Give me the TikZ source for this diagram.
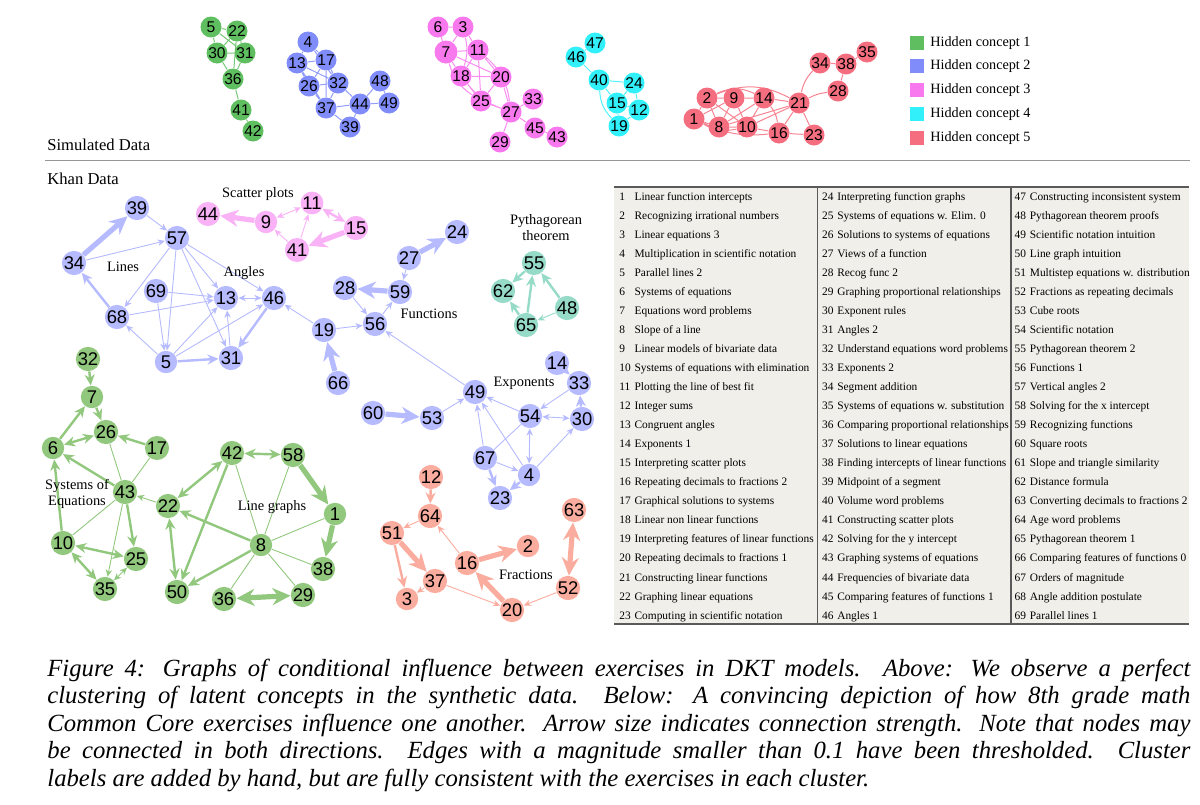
\documentclass[tikz,border=0pt]{standalone}
\usepackage{fontspec}
\setmainfont{Liberation Serif}
\newfontfamily\numberfont{Liberation Sans}
\usetikzlibrary{arrows.meta}

\definecolor{simGreen}{RGB}{95,190,95}
\definecolor{simBlue}{RGB}{128,140,250}
\definecolor{simPink}{RGB}{248,120,238}
\definecolor{simCyan}{RGB}{50,240,250}
\definecolor{simRed}{RGB}{245,110,128}
\definecolor{khanGreen}{RGB}{145,200,125}
\definecolor{khanBlue}{RGB}{182,186,255}
\definecolor{khanPink}{RGB}{248,178,245}
\definecolor{khanTeal}{RGB}{150,218,200}
\definecolor{khanSalmon}{RGB}{250,172,158}
\definecolor{tableBg}{RGB}{241,239,234}
\definecolor{ruleGray}{RGB}{150,150,150}
\definecolor{tableLine}{RGB}{90,90,90}

\pgfdeclarelayer{edges}
\pgfsetlayers{edges,main}

\begin{document}
\begin{tikzpicture}[x=0.5pt,y=-0.5pt]
    \tikzstyle{simNode} = [circle, inner sep=0pt, minimum size=10.5pt, font=\numberfont\fontsize{7.8}{8}\selectfont]
    \tikzstyle{khanNode} = [circle, inner sep=0pt, minimum size=11.2pt, font=\numberfont\fontsize{9.2}{9}\selectfont]
    \tikzstyle{simEdge} = [line width=0.5pt]
    \tikzstyle{weakLink} = [line width=0.45pt, >={Stealth[length=3.6pt,width=3.2pt]}]
    \tikzstyle{mediumLink} = [line width=1.2pt, >={Stealth[length=5.5pt,width=5pt]}]
    \tikzstyle{strongLink} = [line width=2.6pt, >={Stealth[length=9pt,width=8.5pt]}]
    \tikzstyle{clusterLabel} = [font=\fontsize{7.2}{8}\selectfont, align=center, inner sep=0pt]
    \tikzstyle{legendBox} = [rectangle, inner sep=0pt, minimum size=7pt]
    \tikzstyle{legendText} = [anchor=west, inner sep=0pt, font=\fontsize{7.1}{8}\selectfont]
    \tikzstyle{tableCol} = [anchor=north west, inner sep=0pt, font=\fontsize{5.7}{9.525}\selectfont]
    \useasboundingbox (0,0) rectangle (1200,804);

    % place nodes: simulated data
    \node[simNode,fill=simGreen] (sim5) at (211,27) {5};
    \node[simNode,fill=simGreen] (sim22) at (237,31) {22};
    \node[simNode,fill=simGreen] (sim30) at (217,53) {30};
    \node[simNode,fill=simGreen] (sim31) at (245,53) {31};
    \node[simNode,fill=simGreen] (sim36) at (233,79) {36};
    \node[simNode,fill=simGreen] (sim41) at (241,110) {41};
    \node[simNode,fill=simGreen] (sim42) at (253,131) {42};

    \node[simNode,fill=simBlue] (sim4) at (308,42) {4};
    \node[simNode,fill=simBlue] (sim13) at (297,63) {13};
    \node[simNode,fill=simBlue] (sim17) at (326,60) {17};
    \node[simNode,fill=simBlue] (sim26) at (309,86) {26};
    \node[simNode,fill=simBlue] (sim32) at (338,83) {32};
    \node[simNode,fill=simBlue] (sim48) at (380,81) {48};
    \node[simNode,fill=simBlue] (sim37) at (326,108) {37};
    \node[simNode,fill=simBlue] (sim44) at (360,104) {44};
    \node[simNode,fill=simBlue] (sim49) at (389,103) {49};
    \node[simNode,fill=simBlue] (sim39) at (350,127) {39};

    \node[simNode,fill=simPink] (sim6) at (438,27) {6};
    \node[simNode,fill=simPink] (sim3) at (463,27) {3};
    \node[simNode,fill=simPink,minimum size=11.5pt] (sim7) at (446,52) {7};
    \node[simNode,fill=simPink] (sim11) at (478,50) {11};
    \node[simNode,fill=simPink] (sim18) at (461,76) {18};
    \node[simNode,fill=simPink] (sim20) at (501,77) {20};
    \node[simNode,fill=simPink] (sim25) at (481,101) {25};
    \node[simNode,fill=simPink] (sim27) at (511,112) {27};
    \node[simNode,fill=simPink] (sim33) at (533,99) {33};
    \node[simNode,fill=simPink] (sim45) at (535,128) {45};
    \node[simNode,fill=simPink] (sim43) at (557,137) {43};
    \node[simNode,fill=simPink] (sim29) at (500,142) {29};

    \node[simNode,fill=simCyan] (sim47) at (595,43) {47};
    \node[simNode,fill=simCyan] (sim46) at (576,57) {46};
    \node[simNode,fill=simCyan] (sim40) at (599,80) {40};
    \node[simNode,fill=simCyan] (sim24) at (634,83) {24};
    \node[simNode,fill=simCyan] (sim15) at (617,103) {15};
    \node[simNode,fill=simCyan] (sim12) at (639,110) {12};
    \node[simNode,fill=simCyan] (sim19) at (619,126) {19};

    \node[simNode,fill=simRed] (sim2) at (707,98) {2};
    \node[simNode,fill=simRed] (sim9) at (734,98) {9};
    \node[simNode,fill=simRed] (sim14) at (764,98) {14};
    \node[simNode,fill=simRed] (sim21) at (799,103) {21};
    \node[simNode,fill=simRed] (sim1) at (694,119) {1};
    \node[simNode,fill=simRed] (sim8) at (719,127) {8};
    \node[simNode,fill=simRed] (sim10) at (747,127) {10};
    \node[simNode,fill=simRed] (sim16) at (779,133) {16};
    \node[simNode,fill=simRed] (sim23) at (814,135) {23};
    \node[simNode,fill=simRed] (sim34) at (820,63) {34};
    \node[simNode,fill=simRed] (sim38) at (846,64) {38};
    \node[simNode,fill=simRed] (sim35) at (867,52) {35};
    \node[simNode,fill=simRed] (sim28) at (838,91) {28};

    % legend
    \node[legendBox,fill=simGreen] (legendOne) at (917,43) {};
    \node[legendBox,fill=simBlue] (legendTwo) at (917,66) {};
    \node[legendBox,fill=simPink] (legendThree) at (917,90) {};
    \node[legendBox,fill=simCyan] (legendFour) at (917,114) {};
    \node[legendBox,fill=simRed] (legendFive) at (917,138) {};
    \node[legendText] (legendOneText) at (930,43) {Hidden concept 1};
    \node[legendText] (legendTwoText) at (930,66) {Hidden concept 2};
    \node[legendText] (legendThreeText) at (930,90) {Hidden concept 3};
    \node[legendText] (legendFourText) at (930,114) {Hidden concept 4};
    \node[legendText] (legendFiveText) at (930,138) {Hidden concept 5};

    % section titles and rule
    \node[anchor=base west, inner sep=0pt, font=\fontsize{8.3}{9}\selectfont] (simTitle) at (47,150) {Simulated Data};
    \node[anchor=base west, inner sep=0pt, font=\fontsize{8.3}{9}\selectfont] (khanTitle) at (47,184) {Khan Data};
    \coordinate (ruleStart) at (45,160);
    \coordinate (ruleEnd) at (1190,160);
    \draw[ruleGray, line width=0.5pt] (ruleStart) -- (ruleEnd);

    % place nodes: khan data
    \node[khanNode,fill=khanBlue] (khan39) at (137,208) {39};
    \node[khanNode,fill=khanBlue] (khan57) at (177,238) {57};
    \node[khanNode,fill=khanBlue] (khan34) at (74,263) {34};
    \node[khanNode,fill=khanBlue] (khan69) at (156,291) {69};
    \node[khanNode,fill=khanBlue] (khan13) at (226,298) {13};
    \node[khanNode,fill=khanBlue] (khan46) at (274,298) {46};
    \node[khanNode,fill=khanBlue] (khan68) at (117,317) {68};
    \node[khanNode,fill=khanBlue] (khan19) at (324,330) {19};
    \node[khanNode,fill=khanBlue] (khan5) at (166,362) {5};
    \node[khanNode,fill=khanBlue] (khan31) at (231,358) {31};
    \node[khanNode,fill=khanBlue] (khan66) at (338,383) {66};
    \node[khanNode,fill=khanBlue] (khan24) at (457,232) {24};
    \node[khanNode,fill=khanBlue] (khan27) at (409,258) {27};
    \node[khanNode,fill=khanBlue] (khan28) at (345,288) {28};
    \node[khanNode,fill=khanBlue] (khan59) at (400,292) {59};
    \node[khanNode,fill=khanBlue] (khan56) at (375,324) {56};
    \node[khanNode,fill=khanBlue] (khan14) at (557,363) {14};
    \node[khanNode,fill=khanBlue] (khan49) at (475,392) {49};
    \node[khanNode,fill=khanBlue] (khan60) at (373,413) {60};
    \node[khanNode,fill=khanBlue] (khan53) at (432,418) {53};
    \node[khanNode,fill=khanBlue] (khan54) at (530,416) {54};
    \node[khanNode,fill=khanBlue] (khan30) at (582,419) {30};
    \node[khanNode,fill=khanBlue] (khan33) at (579,383) {33};
    \node[khanNode,fill=khanBlue] (khan67) at (485,458) {67};
    \node[khanNode,fill=khanBlue] (khan4) at (529,475) {4};
    \node[khanNode,fill=khanBlue] (khan23) at (500,498) {23};

    \node[khanNode,fill=khanPink] (khan44) at (208,214) {44};
    \node[khanNode,fill=khanPink] (khan9) at (266,222) {9};
    \node[khanNode,fill=khanPink] (khan11) at (312,203) {11};
    \node[khanNode,fill=khanPink] (khan41) at (297,250) {41};
    \node[khanNode,fill=khanPink] (khan15) at (356,228) {15};

    \node[khanNode,fill=khanTeal] (khan55) at (534,263) {55};
    \node[khanNode,fill=khanTeal] (khan62) at (503,291) {62};
    \node[khanNode,fill=khanTeal] (khan48) at (567,308) {48};
    \node[khanNode,fill=khanTeal] (khan65) at (526,325) {65};

    \node[khanNode,fill=khanGreen] (khan32) at (88,359) {32};
    \node[khanNode,fill=khanGreen] (khan7) at (92,397) {7};
    \node[khanNode,fill=khanGreen] (khan26) at (106,432) {26};
    \node[khanNode,fill=khanGreen] (khan6) at (53,448) {6};
    \node[khanNode,fill=khanGreen] (khan17) at (157,448) {17};
    \node[khanNode,fill=khanGreen] (khan43) at (125,492) {43};
    \node[khanNode,fill=khanGreen] (khan22) at (168,506) {22};
    \node[khanNode,fill=khanGreen] (khan10) at (63,543) {10};
    \node[khanNode,fill=khanGreen] (khan25) at (136,559) {25};
    \node[khanNode,fill=khanGreen] (khan35) at (105,589) {35};
    \node[khanNode,fill=khanGreen] (khan42) at (232,453) {42};
    \node[khanNode,fill=khanGreen] (khan58) at (293,455) {58};
    \node[khanNode,fill=khanGreen] (khan1) at (335,514) {1};
    \node[khanNode,fill=khanGreen] (khan8) at (261,545) {8};
    \node[khanNode,fill=khanGreen] (khan38) at (323,569) {38};
    \node[khanNode,fill=khanGreen] (khan50) at (177,592) {50};
    \node[khanNode,fill=khanGreen] (khan36) at (224,599) {36};
    \node[khanNode,fill=khanGreen] (khan29) at (303,595) {29};

    \node[khanNode,fill=khanSalmon] (khan12) at (431,477) {12};
    \node[khanNode,fill=khanSalmon] (khan64) at (430,516) {64};
    \node[khanNode,fill=khanSalmon] (khan51) at (392,533) {51};
    \node[khanNode,fill=khanSalmon] (khan2) at (528,546) {2};
    \node[khanNode,fill=khanSalmon] (khan16) at (467,563) {16};
    \node[khanNode,fill=khanSalmon] (khan37) at (435,581) {37};
    \node[khanNode,fill=khanSalmon] (khan3) at (407,599) {3};
    \node[khanNode,fill=khanSalmon] (khan20) at (512,610) {20};
    \node[khanNode,fill=khanSalmon] (khan52) at (568,588) {52};
    \node[khanNode,fill=khanSalmon] (khan63) at (574,510) {63};

    % cluster labels
    \node[clusterLabel] (linesLabel) at (123,267) {Lines};
    \node[clusterLabel] (anglesLabel) at (244,273) {Angles};
    \node[clusterLabel] (scatterLabel) at (258,194) {Scatter plots};
    \node[clusterLabel] (functionsLabel) at (429,314) {Functions};
    \node[clusterLabel] (pythagorasLabel) at (546,228) {Pythagorean\\theorem};
    \node[clusterLabel] (exponentsLabel) at (524,383) {Exponents};
    \node[clusterLabel] (systemsLabel) at (77,494) {Systems of\\Equations};
    \node[clusterLabel] (lineGraphsLabel) at (272,507) {Line graphs};
    \node[clusterLabel] (fractionsLabel) at (526,575) {Fractions};

    % Connections
    \begin{pgfonlayer}{edges}
    \draw[simEdge,simGreen!85!white] (sim5) -- (sim22) (sim5) -- (sim30) (sim5) -- (sim31) (sim22) -- (sim30)
      (sim22) -- (sim31) (sim30) -- (sim31) (sim30) -- (sim36) (sim31) -- (sim36) (sim22) -- (sim36)
      (sim36) -- (sim41) (sim41) -- (sim42);
    \draw[simEdge,simBlue!85!white] (sim4) -- (sim13) (sim4) -- (sim17) (sim4) -- (sim32) (sim13) -- (sim17)
      (sim13) -- (sim26) (sim13) -- (sim37) (sim13) -- (sim32) (sim17) -- (sim26) (sim17) -- (sim32)
      (sim17) -- (sim37) (sim26) -- (sim32) (sim26) -- (sim37) (sim32) -- (sim37) (sim32) -- (sim44)
      (sim37) -- (sim44) (sim37) -- (sim39) (sim44) -- (sim39) (sim44) -- (sim48) (sim48) -- (sim49)
      (sim44) -- (sim49);
    \draw[simEdge,simPink!85!white] (sim6) -- (sim3) (sim6) -- (sim7) (sim3) -- (sim7) (sim3) -- (sim11)
      (sim7) -- (sim11) (sim7) -- (sim18) (sim7) -- (sim20) (sim7) to[bend right=20] (sim25) (sim11) -- (sim18)
      (sim11) -- (sim20) (sim11) -- (sim25) (sim11) to[bend left=20] (sim27) (sim18) -- (sim20)
      (sim18) -- (sim25) (sim18) to[bend right=15] (sim27) (sim20) -- (sim25) (sim20) -- (sim27)
      (sim25) -- (sim27) (sim27) -- (sim33) (sim27) -- (sim45) (sim27) -- (sim29) (sim45) -- (sim43)
      (sim3) to[bend left=15] (sim18);
    \draw[simEdge,simCyan!85!white] (sim46) -- (sim47) (sim46) -- (sim40) (sim40) -- (sim24) (sim40) -- (sim15)
      (sim40) to[bend right=20] (sim19) (sim24) -- (sim15) (sim24) -- (sim12) (sim15) -- (sim12)
      (sim15) -- (sim19) (sim19) -- (sim12);
    \draw[simEdge,simRed!85!white] (sim2) -- (sim9) (sim2) -- (sim1) (sim2) -- (sim8) (sim2) -- (sim10)
      (sim2) to[bend left=25] (sim14) (sim2) to[bend left=25] (sim21) (sim9) -- (sim14) (sim9) -- (sim1)
      (sim9) -- (sim8) (sim9) -- (sim10) (sim14) -- (sim21) (sim14) -- (sim10) (sim14) to[bend left=15] (sim16)
      (sim14) -- (sim8) (sim1) -- (sim8) (sim1) to[bend right=20] (sim10) (sim1) to[bend right=15] (sim16)
      (sim8) -- (sim21) (sim8) -- (sim10) (sim10) -- (sim21) (sim10) -- (sim16) (sim16) -- (sim21)
      (sim16) -- (sim23) (sim21) -- (sim23) (sim21) to[bend left=15] (sim34) (sim21) to[bend left=10] (sim28)
      (sim34) -- (sim38) (sim38) -- (sim35) (sim38) -- (sim28);

    \begin{scope}[khanBlue]
    \draw[strongLink,->] (khan34) -- (khan39);
    \draw[weakLink,->] (khan39) -- (khan57);
    \draw[weakLink,->] (khan34) -- (khan57);
    \draw[weakLink,->] (khan57) -- (khan68);
    \draw[mediumLink,->] (khan68) -- (khan34);
    \draw[weakLink,->] (khan57) -- (khan5);
    \draw[weakLink,->] (khan69) -- (khan5);
    \draw[weakLink,->] (khan57) -- (khan31);
    \draw[weakLink,->] (khan57) -- (khan13);
    \draw[weakLink,->] (khan57) -- (khan46);
    \draw[weakLink,->] (khan69) -- (khan13);
    \draw[weakLink,->] (khan68) -- (khan13);
    \draw[weakLink,->] (khan5) -- (khan68);
    \draw[weakLink,->] (khan5) -- (khan13);
    \draw[weakLink,->] (khan5) -- (khan46);
    \draw[mediumLink,->] (khan5) -- (khan31);
    \draw[weakLink,->] (khan31) -- (khan13);
    \draw[weakLink,<->] (khan13) -- (khan46);
    \draw[mediumLink,->] (khan46) -- (khan31);
    \draw[weakLink,->] (khan19) -- (khan46);
    \draw[weakLink,->] (khan19) -- (khan56);
    \draw[strongLink,->] (khan66) -- (khan19);
    \draw[weakLink,->] (khan49) -- (khan56);
    \draw[weakLink,->] (khan28) -- (khan56);
    \draw[weakLink,->] (khan56) -- (khan59);
    \draw[strongLink,->] (khan59) -- (khan28);
    \draw[weakLink,->] (khan27) -- (khan59);
    \draw[strongLink,->] (khan27) -- (khan24);
    \draw[strongLink,->] (khan60) -- (khan53);
    \draw[weakLink,->] (khan53) -- (khan49);
    \draw[weakLink,->] (khan54) -- (khan49);
    \draw[weakLink,->] (khan67) -- (khan49);
    \draw[weakLink,->] (khan4) -- (khan49);
    \draw[weakLink] (khan67) -- (khan54);
    \draw[weakLink,<->] (khan54) -- (khan4);
    \draw[weakLink,<->] (khan54) -- (khan30);
    \draw[weakLink,->] (khan33) -- (khan54);
    \draw[weakLink,->] (khan14) -- (khan33);
    \draw[mediumLink,->] (khan30) -- (khan33);
    \draw[weakLink,->] (khan4) -- (khan30);
    \draw[weakLink,->] (khan67) -- (khan4);
    \draw[mediumLink,->] (khan67) -- (khan23);
    \draw[mediumLink,->] (khan4) -- (khan23);
    \end{scope}

    \begin{scope}[khanPink]
    \draw[strongLink,->] (khan9) -- (khan44);
    \draw[weakLink,<->] (khan9) -- (khan11);
    \draw[weakLink,->] (khan41) -- (khan9);
    \draw[weakLink,->] (khan41) -- (khan11);
    \draw[mediumLink,<->] (khan11) -- (khan15);
    \draw[strongLink,->] (khan15) -- (khan41);
    \end{scope}

    \begin{scope}[khanTeal]
    \draw[mediumLink,->] (khan55) -- (khan62);
    \draw[mediumLink,->] (khan65) -- (khan55);
    \draw[mediumLink,->] (khan48) -- (khan55);
    \draw[weakLink,->] (khan48) -- (khan65);
    \draw[mediumLink,->] (khan65) -- (khan62);
    \end{scope}

    \begin{scope}[khanGreen]
    \draw[mediumLink,->] (khan32) -- (khan7);
    \draw[mediumLink,->] (khan6) -- (khan7);
    \draw[mediumLink,->] (khan7) -- (khan26);
    \draw[mediumLink,<->] (khan6) -- (khan26);
    \draw[mediumLink,->] (khan17) -- (khan26);
    \draw[weakLink] (khan26) -- (khan43);
    \draw[mediumLink,->] (khan43) -- (khan6);
    \draw[weakLink] (khan17) -- (khan43);
    \draw[mediumLink,->] (khan10) -- (khan6);
    \draw[weakLink] (khan10) -- (khan43);
    \draw[mediumLink,->] (khan43) -- (khan25);
    \draw[weakLink,->] (khan43) -- (khan35);
    \draw[mediumLink,<->] (khan10) -- (khan25);
    \draw[mediumLink,<->] (khan10) -- (khan35);
    \draw[weakLink,<->] (khan35) -- (khan25);
    \draw[weakLink,->] (khan22) -- (khan43);
    \draw[mediumLink,<->] (khan22) -- (khan42);
    \draw[mediumLink,<->] (khan22) -- (khan50);
    \draw[mediumLink,->] (khan42) -- (khan50);
    \draw[mediumLink,<->] (khan42) -- (khan58);
    \draw[weakLink] (khan42) -- (khan8);
    \draw[weakLink] (khan58) -- (khan8);
    \draw[strongLink,->] (khan58) -- (khan1);
    \draw[strongLink,->] (khan1) -- (khan38);
    \draw[weakLink] (khan1) -- (khan8);
    \draw[mediumLink,->] (khan8) -- (khan22);
    \draw[mediumLink,->] (khan8) -- (khan50);
    \draw[weakLink] (khan8) -- (khan38);
    \draw[weakLink] (khan8) -- (khan29);
    \draw[weakLink] (khan8) -- (khan36);
    \draw[strongLink,<->] (khan36) -- (khan29);
    \end{scope}

    \begin{scope}[khanSalmon]
    \draw[mediumLink,->] (khan12) -- (khan64);
    \draw[weakLink,->] (khan64) -- (khan51);
    \draw[strongLink,->] (khan51) -- (khan37);
    \draw[mediumLink,->] (khan51) -- (khan3);
    \draw[weakLink,->] (khan37) -- (khan3);
    \draw[weakLink,->] (khan37) -- (khan20);
    \draw[weakLink,->] (khan16) -- (khan64);
    \draw[strongLink,->] (khan16) -- (khan2);
    \draw[strongLink,->] (khan20) -- (khan16);
    \draw[weakLink,->] (khan52) -- (khan20);
    \draw[strongLink,<->] (khan52) -- (khan63);
    \end{scope}
    \end{pgfonlayer}

    % exercise table
    \fill[tableBg] (614,186.7) rectangle (1189,624);
    \draw[tableLine, line width=0.8pt] (614,186.7) -- (1189,186.7);
    \draw[tableLine, line width=1.1pt] (614,624) -- (1189,624);
    \draw[tableLine, line width=0.8pt] (817.3,186.7) -- (817.3,624);
    \draw[tableLine, line width=0.8pt] (1010.7,186.7) -- (1010.7,624);
    \node[tableCol] (tableColOne) at (619,186.3) {\begin{tabular}{@{}l@{\hspace{1.9pt}}l@{}}
      1 & Linear function intercepts\\
      2 & Recognizing irrational numbers\\
      3 & Linear equations 3\\
      4 & Multiplication in scientific notation\\
      5 & Parallel lines 2\\
      6 & Systems of equations\\
      7 & Equations word problems\\
      8 & Slope of a line\\
      9 & Linear models of bivariate data\\
      10 & Systems of equations with elimination\\
      11 & Plotting the line of best fit\\
      12 & Integer sums\\
      13 & Congruent angles\\
      14 & Exponents 1\\
      15 & Interpreting scatter plots\\
      16 & Repeating decimals to fractions 2\\
      17 & Graphical solutions to systems\\
      18 & Linear non linear functions\\
      19 & Interpreting features of linear functions\\
      20 & Repeating decimals to fractions 1\\
      21 & Constructing linear functions\\
      22 & Graphing linear equations\\
      23 & Computing in scientific notation
    \end{tabular}};
    \node[tableCol] (tableColTwo) at (821.7,186.3) {\begin{tabular}{@{}l@{\hspace{1.9pt}}l@{}}
      24 & Interpreting function graphs\\
      25 & Systems of equations w. Elim. 0\\
      26 & Solutions to systems of equations\\
      27 & Views of a function\\
      28 & Recog func 2\\
      29 & Graphing proportional relationships\\
      30 & Exponent rules\\
      31 & Angles 2\\
      32 & Understand equations word problems\\
      33 & Exponents 2\\
      34 & Segment addition\\
      35 & Systems of equations w. substitution\\
      36 & Comparing proportional relationships\\
      37 & Solutions to linear equations\\
      38 & Finding intercepts of linear functions\\
      39 & Midpoint of a segment\\
      40 & Volume word problems\\
      41 & Constructing scatter plots\\
      42 & Solving for the y intercept\\
      43 & Graphing systems of equations\\
      44 & Frequencies of bivariate data\\
      45 & Comparing features of functions 1\\
      46 & Angles 1
    \end{tabular}};
    \node[tableCol] (tableColThree) at (1014.3,186.3) {\begin{tabular}{@{}l@{\hspace{1.9pt}}l@{}}
      47 & Constructing inconsistent system\\
      48 & Pythagorean theorem proofs\\
      49 & Scientific notation intuition\\
      50 & Line graph intuition\\
      51 & Multistep equations w. distribution\\
      52 & Fractions as repeating decimals\\
      53 & Cube roots\\
      54 & Scientific notation\\
      55 & Pythagorean theorem 2\\
      56 & Functions 1\\
      57 & Vertical angles 2\\
      58 & Solving for the x intercept\\
      59 & Recognizing functions\\
      60 & Square roots\\
      61 & Slope and triangle similarity\\
      62 & Distance formula\\
      63 & Converting decimals to fractions 2\\
      64 & Age word problems\\
      65 & Pythagorean theorem 1\\
      66 & Comparing features of functions 0\\
      67 & Orders of magnitude\\
      68 & Angle addition postulate\\
      69 & Parallel lines 1
    \end{tabular}};

    % caption
    \node[anchor=north west, inner sep=0pt, text width=571.5pt, align=justify,
      font=\fontsize{12.35}{13.75}\selectfont\itshape] (figCaption) at (47,658.5)
      {Figure 4: Graphs of conditional influence between exercises in DKT models.  Above: We observe a perfect\linebreak
      clustering of latent concepts in the synthetic data.  Below: A convincing depiction of how 8th grade math\linebreak
      Common Core exercises influence one another.  Arrow size indicates connection strength.  Note that nodes may\linebreak
      be connected in both directions.  Edges with a magnitude smaller than 0.1 have been thresholded.  Cluster\linebreak
      labels are added by hand, but are fully consistent with the exercises in each cluster.};
\end{tikzpicture}
\end{document}
